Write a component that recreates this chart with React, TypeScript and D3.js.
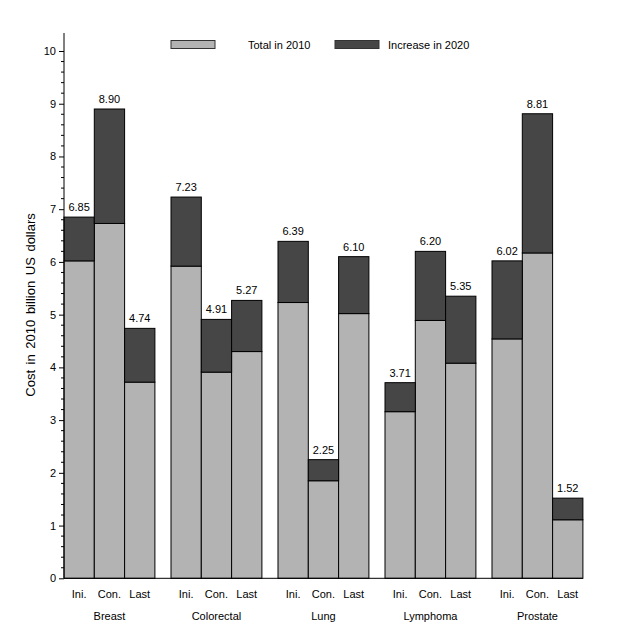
import React, { useEffect, useRef } from 'react';
import * as d3 from 'd3';

// cancer sites and phases of care
const sites = ['Breast', 'Colorectal', 'Lung', 'Lymphoma', 'Prostate'];
const phases = ['Ini.', 'Con.', 'Last'];

// cost in 2010 (billion US dollars), per site, per phase
const total2010 = [
	[6.02, 6.73, 3.72],
	[5.92, 3.91, 4.3],
	[5.23, 1.85, 5.02],
	[3.16, 4.89, 4.08],
	[4.54, 6.17, 1.11],
];

// projected total in 2020 (labels on top of bars)
const total2020 = [
	[6.85, 8.9, 4.74],
	[7.23, 4.91, 5.27],
	[6.39, 2.25, 6.1],
	[3.71, 6.2, 5.35],
	[6.02, 8.81, 1.52],
];

const yTicks = [0, 1, 2, 3, 4, 5, 6, 7, 8, 9, 10];

const W = 638;
const H = 636;
const FONT = '"Liberation Sans", Arial, sans-serif';
const LIGHT = '#b3b3b3';
const DARK = '#464646';

const App: React.FC = () => {
	const ref = useRef<SVGSVGElement>(null);

	useEffect(() => {
		if (!ref.current) return;
		const svg = d3.select(ref.current);
		svg.selectAll('*').remove();

		const axisX = 64;
		const groupStep = 107;
		const barW = 30.3;

		const y = d3.scaleLinear().domain([0, 10]).range([578.3, 51]);

		const xGroup = (i: number) => axisX + i * groupStep;
		const xBar = (i: number, j: number) => xGroup(i) + j * barW;

		// --- Bars ---
		const rows = sites.flatMap((s, i) =>
			phases.map((p, j) => ({
				i,
				j,
				base: total2010[i][j],
				top: total2020[i][j],
			})),
		);

		const g = svg.append('g');

		g.selectAll('rect.base')
			.data(rows)
			.enter()
			.append('rect')
			.attr('class', 'base')
			.attr('x', (d) => xBar(d.i, d.j))
			.attr('y', (d) => y(d.base))
			.attr('width', barW)
			.attr('height', (d) => y(0) - y(d.base))
			.attr('fill', LIGHT)
			.attr('stroke', '#000')
			.attr('stroke-width', 1);

		g.selectAll('rect.inc')
			.data(rows)
			.enter()
			.append('rect')
			.attr('class', 'inc')
			.attr('x', (d) => xBar(d.i, d.j))
			.attr('y', (d) => y(d.top))
			.attr('width', barW)
			.attr('height', (d) => y(d.base) - y(d.top))
			.attr('fill', DARK)
			.attr('stroke', '#000')
			.attr('stroke-width', 1);

		// value labels
		g.selectAll('text.val')
			.data(rows)
			.enter()
			.append('text')
			.attr('x', (d) => xBar(d.i, d.j) + barW / 2)
			.attr('y', (d) => y(d.top) - 6)
			.attr('text-anchor', 'middle')
			.attr('font-family', FONT)
			.attr('font-size', 11)
			.text((d) => d.top.toFixed(2));

		// phase labels
		g.selectAll('text.phase')
			.data(rows)
			.enter()
			.append('text')
			.attr('x', (d) => xBar(d.i, d.j) + barW / 2)
			.attr('y', 598)
			.attr('text-anchor', 'middle')
			.attr('font-family', FONT)
			.attr('font-size', 11)
			.text((d) => phases[d.j]);

		// site labels
		g.selectAll('text.site')
			.data(sites)
			.enter()
			.append('text')
			.attr('x', (d, i) => xGroup(i) + (barW * 3) / 2)
			.attr('y', 620)
			.attr('text-anchor', 'middle')
			.attr('font-family', FONT)
			.attr('font-size', 11)
			.text((d) => d);

		// --- Y axis ---
		const yAxis = d3
			.axisLeft(y)
			.tickValues(yTicks)
			.tickSize(5)
			.tickFormat((d) => String(d));
		const ax = svg
			.append('g')
			.attr('transform', `translate(${axisX},0)`)
			.call(yAxis);
		ax.select('.domain').remove();
		ax.selectAll('text')
			.attr('font-family', FONT)
			.attr('font-size', 11)
			.attr('fill', '#000');
		ax.selectAll('line').attr('stroke', '#000');

		// minor ticks every 0.2
		const minor = d3.range(0, 10.01, 0.2).filter((v) => Math.abs(v - Math.round(v)) > 0.01);
		svg.append('g')
			.selectAll('line')
			.data(minor)
			.enter()
			.append('line')
			.attr('x1', axisX - 3)
			.attr('x2', axisX)
			.attr('y1', (d) => y(d))
			.attr('y2', (d) => y(d))
			.attr('stroke', '#000');

		svg.append('line')
			.attr('x1', axisX)
			.attr('x2', axisX)
			.attr('y1', y(0))
			.attr('y2', 33)
			.attr('stroke', '#000');

		// bottom baseline
		svg.append('line')
			.attr('x1', axisX)
			.attr('x2', xGroup(4) + barW * 3)
			.attr('y1', y(0))
			.attr('y2', y(0))
			.attr('stroke', '#000');

		// y label
		svg.append('text')
			.attr('transform', `translate(35,${305}) rotate(-90)`)
			.attr('text-anchor', 'middle')
			.attr('font-family', FONT)
			.attr('font-size', 13)
			.attr('word-spacing', 2)
			.text('Cost in 2010 billion US dollars');

		// --- Legend ---
		const legend = [
			{ label: 'Total in 2010', color: LIGHT, x: 171, tx: 248 },
			{ label: 'Increase in 2020', color: DARK, x: 335, tx: 388 },
		];
		const lg = svg.append('g').selectAll('g').data(legend).enter().append('g');
		lg.append('rect')
			.attr('x', (d) => d.x)
			.attr('y', 40.5)
			.attr('width', 44)
			.attr('height', 8)
			.attr('fill', (d) => d.color)
			.attr('stroke', '#333');
		lg.append('text')
			.attr('x', (d) => d.tx)
			.attr('y', 49)
			.attr('font-family', FONT)
			.attr('font-size', 11)
			.text((d) => d.label);
	}, []);

	return (
		<svg
			ref={ref}
			width={W}
			height={H}
			style={{ position: 'absolute', left: 0, top: 0, background: '#fff' }}
		/>
	);
};

export default App;
